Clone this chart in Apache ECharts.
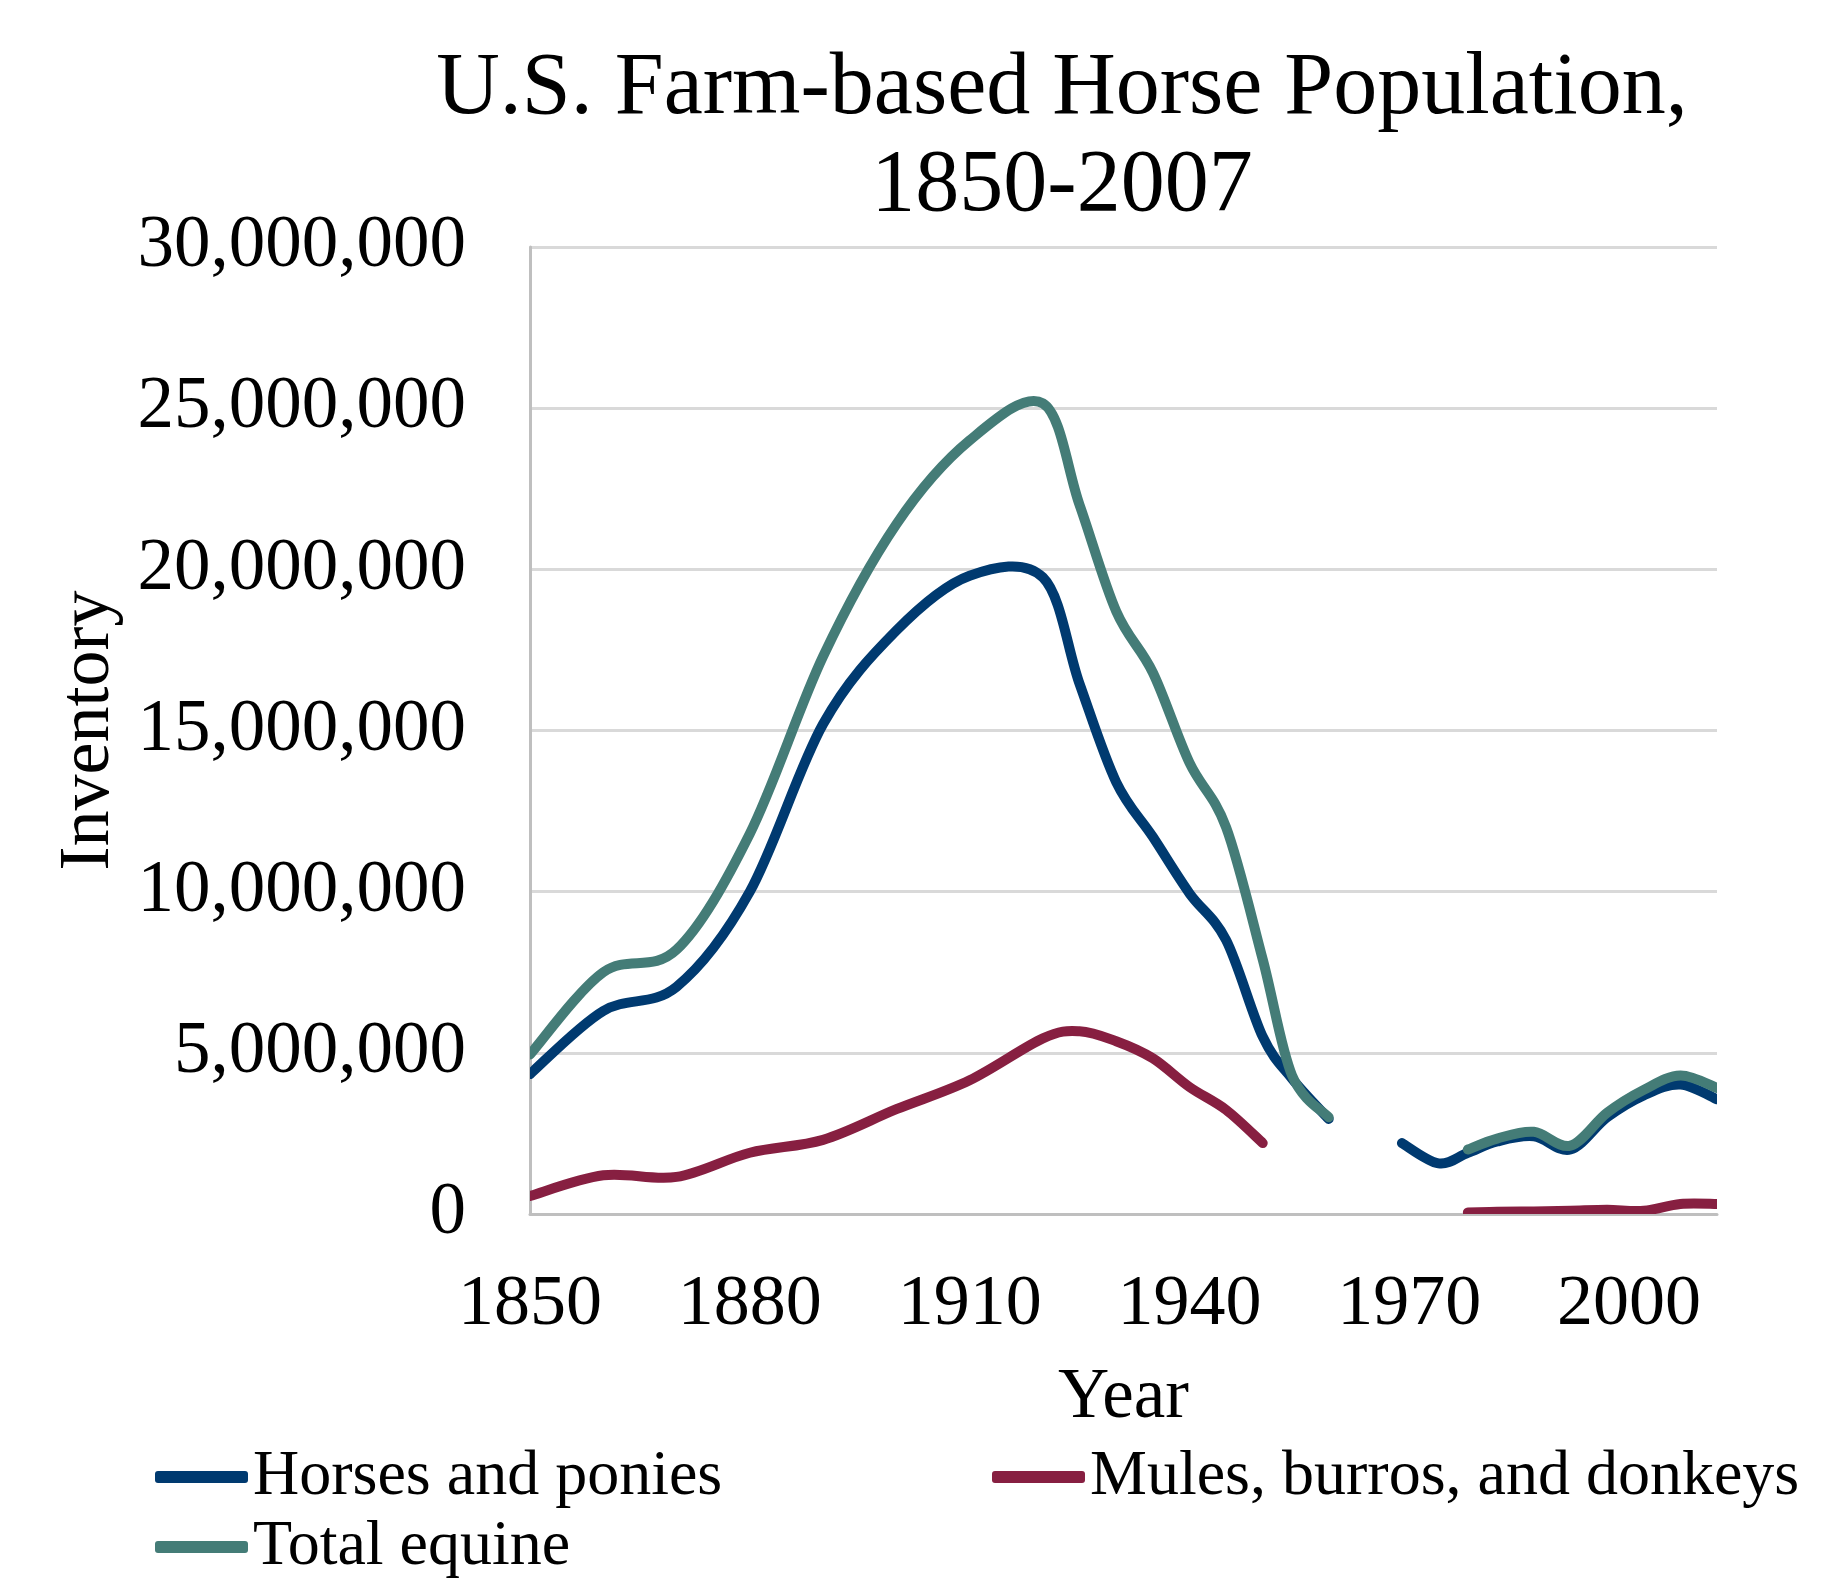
<!DOCTYPE html>
<html>
<head>
<meta charset="utf-8">
<title>U.S. Farm-based Horse Population, 1850-2007</title>
<script src="https://cdn.jsdelivr.net/npm/echarts@6/dist/echarts.min.js"></script>
<style>
    html, body { margin: 0; padding: 0; background: #fff; }
    #chart { width: 1824px; height: 1585px; }
</style>
</head>
<body>
<div id="chart"></div>
<script>
// census years (1964: no data, lines break there)
var years = [1850, 1860, 1870, 1880, 1890, 1900, 1910, 1920, 1925, 1930, 1935, 1940, 1945, 1950, 1954, 1959, 1964, 1969, 1974, 1978, 1982, 1987, 1992, 1997, 2002, 2007, 2012];

var horses = [4340000, 6300000, 7050000, 10000000, 15200000, 18100000, 19800000, 19750000, 16450000, 13400000, 11700000, 9950000, 8500000, 5500000, 4200000, 2950000,
    null, 2200000, 1570000, 1900000, 2250000, 2410000, 2000000, 3000000, 3680000, 4020000, 3560000];

var mules = [560000, 1200000, 1150000, 1900000, 2300000, 3250000, 4150000, 5450000, 5670000, 5360000, 4830000, 3940000, 3230000, 2200000, null, null,
    null, null, null, 50000, 70000, 80000, 100000, 130000, 100000, 310000, 310000];

var total = [4950000, 7500000, 8200000, 11800000, 17300000, 21400000, 24000000, 25150000, 22000000, 18700000, 16800000, 14000000, 12000000, 7900000, 4300000, 3000000,
    null, null, null, 2000000, 2340000, 2550000, 2120000, 3140000, 3850000, 4300000, 3910000];

var xTicks = [1850, 1880, 1910, 1940, 1970, 2000];

var font = "'Times New Roman', 'Liberation Serif', serif";

var chart = echarts.init(document.getElementById('chart'));

var pairs = function (vals) {
    var arr = [];
    for (var i = 0; i < years.length; i++) {
        arr.push([years[i], vals[i] == null ? '-' : vals[i]]);
    }
    return arr;
};

// spreadsheet-style smoothing (catmull-rom as bezier), one path per unbroken run
var smoothPath = function (pts) {
    if (pts.length < 2) return '';
    var d = 'M' + pts[0][0] + ' ' + pts[0][1];
    for (var i = 0; i < pts.length - 1; i++) {
        var p0 = pts[i - 1] || pts[i];
        var p1 = pts[i];
        var p2 = pts[i + 1];
        var p3 = pts[i + 2] || p2;
        d += ' C' + (p1[0] + (p2[0] - p0[0]) / 6) + ' ' + (p1[1] + (p2[1] - p0[1]) / 6)
            + ' ' + (p2[0] - (p3[0] - p1[0]) / 6) + ' ' + (p2[1] - (p3[1] - p1[1]) / 6)
            + ' ' + p2[0] + ' ' + p2[1];
    }
    return d;
};

var lineSeries = function (name, color, vals) {
    return {
        name: name,
        type: 'custom',
        clip: true,
        color: color,
        itemStyle: { color: color },
        encode: { x: 0, y: 1 },
        data: pairs(vals),
        renderItem: function (params, api) {
            if (params.dataIndex !== 0) return null;
            var d = '';
            var run = [];
            for (var i = 0; i <= years.length; i++) {
                if (i < years.length && vals[i] != null) {
                    run.push(api.coord([years[i], vals[i]]));
                } else {
                    d += smoothPath(run) + ' ';
                    run = [];
                }
            }
            return {
                type: 'path',
                shape: { pathData: d },
                style: { fill: null, stroke: color, lineWidth: 10, lineCap: 'round', lineJoin: 'round' }
            };
        }
    };
};

var legendItem = function (name, left, top) {
    return {
        data: [name],
        left: left,
        top: top,
        padding: 0,
        icon: 'roundRect',
        itemWidth: 93,
        itemHeight: 12,
        itemGap: 0,
        textStyle: { fontFamily: font, fontSize: 64, color: '#000', padding: [0, 0, 0, 0] }
    };
};

var option = {
    backgroundColor: '#fff',
    animation: false,
    title: {
        text: 'U.S. Farm-based Horse Population,\n1850-2007',
        left: 1057,
        top: 36,
        textAlign: 'center',
        textStyle: { fontFamily: font, fontSize: 88, lineHeight: 97, fontWeight: 'normal', color: '#000' }
    },
    legend: [
        legendItem('Horses and ponies', 155, 1445),
        legendItem('Mules, burros, and donkeys', 992, 1445),
        legendItem('Total equine', 155, 1515)
    ],
    grid: { left: 530, right: 107, top: 247, bottom: 371 },
    xAxis: {
        type: 'value',
        min: 1850,
        max: 2012,
        name: 'Year',
        nameLocation: 'middle',
        nameGap: 149,
        nameTextStyle: { fontFamily: font, fontSize: 71, color: '#000' },
        axisLine: { show: true, lineStyle: { color: '#bfbfbf', width: 3 } },
        axisTick: { show: false },
        splitLine: { show: false },
        axisLabel: {
            customValues: xTicks,
            margin: 55,
            fontFamily: font,
            fontSize: 72,
            color: '#000',
            formatter: function (v) { return String(v); }
        }
    },
    yAxis: {
        type: 'value',
        min: 0,
        max: 30000000,
        interval: 5000000,
        name: 'Inventory',
        nameLocation: 'middle',
        nameGap: 405,
        nameTextStyle: { fontFamily: font, fontSize: 72, color: '#000' },
        axisLine: { show: true, lineStyle: { color: '#bfbfbf', width: 3 } },
        axisTick: { show: false },
        splitLine: { lineStyle: { color: '#d9d9d9', width: 3 } },
        axisLabel: {
            margin: 64,
            fontFamily: font,
            fontSize: 73,
            color: '#000',
            formatter: function (v) { return v.toLocaleString('en-US'); }
        }
    },
    series: [
        lineSeries('Horses and ponies', '#003a70', horses),
        lineSeries('Mules, burros, and donkeys', '#871f41', mules),
        lineSeries('Total equine', '#447c77', total)
    ]
};

chart.setOption(option);
</script>
</body>
</html>
